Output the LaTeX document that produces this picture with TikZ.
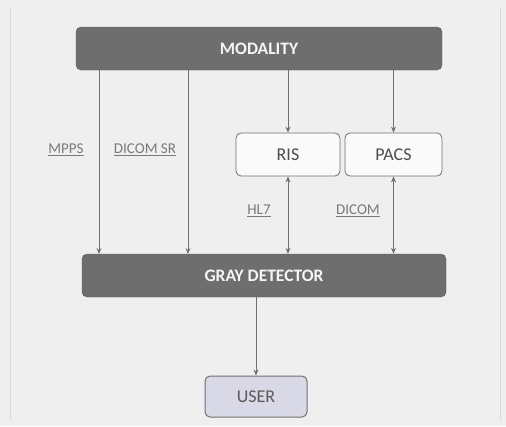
\documentclass[tikz,border=0pt]{standalone}
\usepackage{fontspec}
\setmainfont{Carlito}
\usetikzlibrary{arrows.meta}
\definecolor{bg}{HTML}{EFEFEF}
\definecolor{dark}{HTML}{6E6E6E}
\definecolor{lav}{HTML}{D9D8E6}
\definecolor{edge}{HTML}{707070}
\definecolor{lbl}{HTML}{7A7A7A}
\tikzset{
  x=1pt, y=-1pt,
  darkbox/.style={draw=dark!80!black, fill=dark, rounded corners=5pt, text=white!92!gray, font=\fontsize{17.5}{20}\selectfont\bfseries, inner sep=0pt},
  whitebox/.style={draw=edge, fill=white!96!gray, rounded corners=5pt, text=black!70, font=\fontsize{18}{20}\selectfont, inner sep=0pt, line width=0.8pt},
  userbox/.style={draw=edge, fill=lav, rounded corners=5pt, text=black!65, font=\fontsize{18}{20}\selectfont, inner sep=0pt, line width=1pt},
  conn/.style={draw=edge, line width=0.9pt, -{Stealth[length=6pt,width=5pt]}},
  dconn/.style={draw=edge, line width=0.9pt, {Stealth[length=6pt,width=5pt]}-{Stealth[length=6pt,width=5pt]}},
  lab/.style={text=lbl, font=\fontsize{15}{17}\selectfont, inner sep=1pt},
}
\begin{document}
\begin{tikzpicture}
\fill[bg] (0,0) rectangle (506,426);
\useasboundingbox (0,0) rectangle (506,426);
\draw[black!15, line width=0.8pt] (10,8) -- (10,420);
\draw[black!15, line width=0.8pt] (500,8) -- (500,420);

\node[darkbox, minimum width=366pt, minimum height=43pt] (mod) at (259,48.5) {MODALITY};
\node[whitebox, minimum width=104pt, minimum height=43pt] (ris) at (288,154.5) {RIS};
\node[whitebox, minimum width=97pt, minimum height=43pt] (pacs) at (393.5,154.5) {PACS};
\node[darkbox, minimum width=364pt, minimum height=43pt] (gd) at (264,275.5) {GRAY DETECTOR};
\node[userbox, minimum width=102pt, minimum height=41pt] (user) at (256,396.5) {USER};

\coordinate (m1) at (99,70);
\coordinate (m2) at (188,70);
\coordinate (g1) at (99,254);
\coordinate (g2) at (188,254);
\draw[conn] (m1) -- (g1);
\draw[conn] (m2) -- (g2);
\draw[conn] (mod.south -| ris.north) -- (ris.north);
\draw[conn] (mod.south -| pacs.north) -- (pacs.north);
\draw[dconn] (ris.south) -- (ris.south |- gd.north);
\draw[dconn] (pacs.south) -- (pacs.south |- gd.north);
\draw[conn] (gd.south -| user.north) -- (user.north);

\node[lab] (l1) at (66,150) {\underline{MPPS}};
\node[lab] (l2) at (145,150) {\underline{DICOM SR}};
\node[lab] (l3) at (259,211) {\underline{HL7}};
\node[lab] (l4) at (358,211) {\underline{DICOM}};
\end{tikzpicture}
\end{document}
